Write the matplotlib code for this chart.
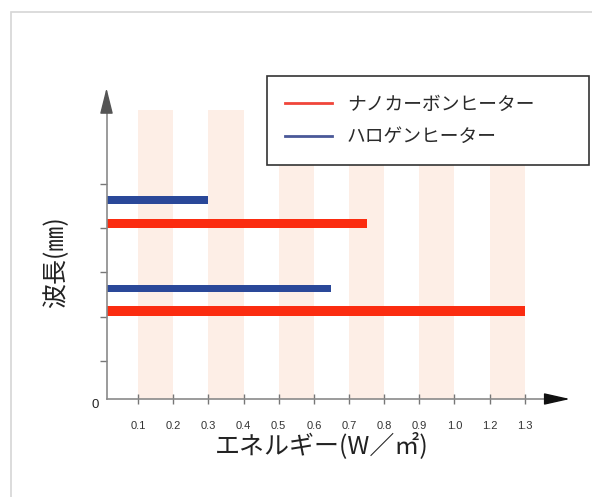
import numpy as np
import matplotlib.pyplot as plt
from matplotlib.lines import Line2D
from matplotlib.patches import Rectangle

plt.rcParams['font.family'] = ['Noto Sans CJK JP', 'DejaVu Sans']

# energy axis (W/m2): each label gets its own equal slot, 1.1 is skipped
scale_vals = [0.0, 0.1, 0.2, 0.3, 0.4, 0.5, 0.6, 0.7, 0.8, 0.9, 1.0, 1.2, 1.3, 1.4]
scale_pos = list(range(len(scale_vals)))

tick_vals = [0.1, 0.2, 0.3, 0.4, 0.5, 0.6, 0.7, 0.8, 0.9, 1.0, 1.2, 1.3]
tick_labels = ["0.1", "0.2", "0.3", "0.4", "0.5", "0.6",
               "0.7", "0.8", "0.9", "1.0", "1.2", "1.3"]

bands = [(0.1, 0.2), (0.3, 0.4), (0.5, 0.6), (0.7, 0.8), (0.9, 1.0), (1.2, 1.3)]

series = ["ナノカーボンヒーター", "ハロゲンヒーター"]
carbon_y = [2.13, 4.11]
carbon_energy = [1.3, 0.75]
halogen_y = [2.63, 4.64]
halogen_energy = [0.65, 0.3]
wave_ticks = [1, 2, 3, 4, 5]

red = '#fb2c10'
blue = '#2a4899'


def to_slot(x):
    return np.interp(x, scale_vals, scale_pos)


def from_slot(p):
    return np.interp(p, scale_pos, scale_vals)


W, H = 592, 497
fig = plt.figure(figsize=(W / 100, H / 100), dpi=100)
ax_l, ax_r, ax_b, ax_t = 106.5, 548, 399, 110
ax = fig.add_axes([ax_l / W, 1 - ax_b / H, (ax_r - ax_l) / W, (ax_b - ax_t) / H])

ax.set_xscale('function', functions=(to_slot, from_slot))
ax.set_xlim(from_slot(0.10), from_slot(12.66))
ax.set_ylim(0.141, 6.67)

for a, b in bands:
    ax.axvspan(a, b, color='#fdeee6', lw=0, zorder=0)

ax.barh(carbon_y, carbon_energy, left=0, height=0.21, color=red, zorder=2)
ax.barh(halogen_y, halogen_energy, left=0, height=0.165, color=blue, zorder=2)

for s in ['top', 'right']:
    ax.spines[s].set_visible(False)
for s in ['left', 'bottom']:
    ax.spines[s].set_color('#8a8a8a')
    ax.spines[s].set_linewidth(1.2)

ax.set_xticks(tick_vals)
ax.set_xticklabels(tick_labels, family='Liberation Sans')
ax.xaxis.set_minor_locator(plt.NullLocator())
ax.tick_params(axis='x', direction='inout', length=7, width=1, color='#777',
               pad=12, labelsize=8, labelcolor='#333')
ax.set_yticks(wave_ticks)
ax.set_yticklabels([])
ax.tick_params(axis='y', direction='out', length=5, width=1, color='#777')

# arrowheads on the axes
ax.annotate('', xy=(1.0498, 0), xytext=(1.0, 0), xycoords='axes fraction',
            arrowprops=dict(arrowstyle='-|>,head_length=0.8,head_width=0.18',
                            mutation_scale=20, color='#111', shrinkA=0, shrinkB=0))
ax.annotate('', xy=(0, 1.0761), xytext=(0, 1.0), xycoords='axes fraction',
            arrowprops=dict(arrowstyle='-|>,head_length=0.8,head_width=0.2',
                            mutation_scale=20, color='#555', shrinkA=0, shrinkB=0),
            annotation_clip=False)
ax.annotate('0', xy=(0, 0), xycoords='axes fraction', xytext=(-8.5, -4.5),
            textcoords='offset points', ha='center', va='center',
            fontsize=9.5, family='Liberation Sans', color='#222')

handles = [Line2D([], [], color='#f0453a', lw=2),
           Line2D([], [], color='#4a5898', lw=2)]
leg = ax.legend(handles, series, loc='upper left',
                bbox_to_anchor=(267 / W, 1 - 161 / H, 322 / W, 85 / H),
                bbox_transform=fig.transFigure, mode='expand', borderaxespad=0,
                fancybox=False, framealpha=1, edgecolor='#333',
                prop={'size': 13.5}, borderpad=0.95, labelspacing=0.6,
                handlelength=2.5, handletextpad=0.8)
leg.get_frame().set_linewidth(1.2)
for t in leg.get_texts():
    t.set_color('#2a2a2a')

fig.text(322 / W, 1 - 446 / H, "エネルギー(W／㎡)", fontsize=18,
         ha='center', va='center', color='#222')
fig.text(56 / W, 1 - 262 / H, "波長(㎜)", fontsize=18, rotation=90,
         ha='center', va='center', color='#222')

# thin page frame along the top and left
fig.add_artist(Rectangle((11 / W, -1), 2, 2 - 12 / H, transform=fig.transFigure,
                         fill=False, ec='#d6d6d6', lw=1.2))

fig.savefig('out.png', dpi=100)
